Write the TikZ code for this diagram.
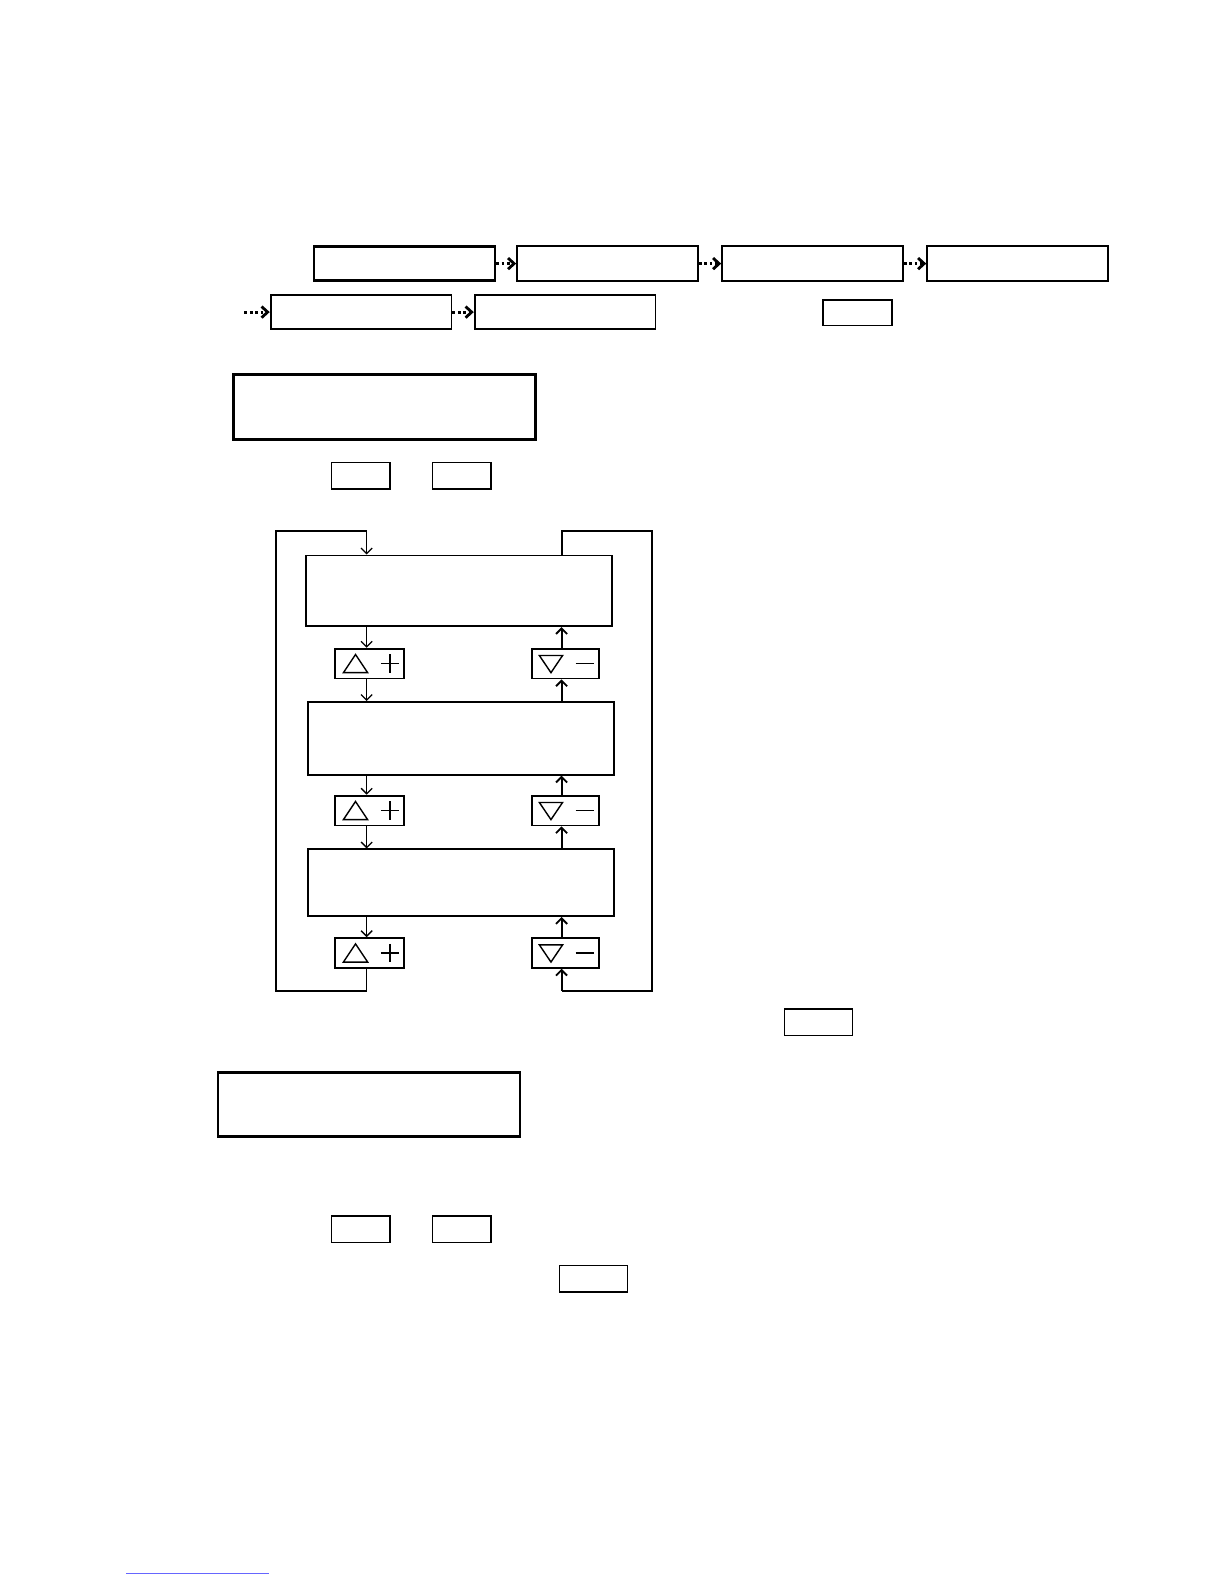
\documentclass[tikz,border=0pt]{standalone}
\usetikzlibrary{arrows.meta,calc}
\begin{document}
\begin{tikzpicture}[x=1pt,y=-1pt,
  bigbox/.style={draw,line width=2.6pt,inner sep=0pt},
  midbox/.style={draw,line width=1.9pt,inner sep=0pt},
  smallbox/.style={draw,line width=1.4pt,inner sep=0pt},
  btnbox/.style={draw,line width=1.8pt,inner sep=0pt,minimum height=29.5pt},
  dotarrow/.style={line width=3pt,dash pattern=on 2.6pt off 2.8pt,
     -{Straight Barb[length=6pt,width=11pt,line width=2.8pt]}},
  thinarrow/.style={line width=1.3pt,-{Straight Barb[length=5.5pt,width=11pt,line width=1.3pt]}},
  thickarrow/.style={line width=2pt,-{Straight Barb[length=5.5pt,width=11pt,line width=1.8pt]}},
  loopline/.style={line width=2pt},
  sym/.style={line width=1.4pt}]
\useasboundingbox (0,0) rectangle (1211.9,1568.3);

% first row
\node[bigbox,minimum width=179pt,minimum height=34pt] (A) at (400.5,261) {};
\node[midbox,minimum width=179pt,minimum height=34pt] (B) at (601.5,261) {};
\node[midbox,minimum width=179pt,minimum height=34pt] (C) at (804.5,261) {};
\node[midbox,minimum width=179pt,minimum height=34pt] (D) at (1007.5,261) {};
\draw[dotarrow] (A.east) -- (B.west);
\draw[dotarrow] (B.east) -- (C.west);
\draw[dotarrow] (C.east) -- (D.west);

% second row
\coordinate (Ein) at (242,309);
\node[midbox,minimum width=179pt,minimum height=34pt] (E) at (357.5,309) {};
\node[midbox,minimum width=179pt,minimum height=34pt] (F) at (559.5,309) {};
\draw[dotarrow] (Ein) -- (E.west);
\draw[dotarrow] (E.east) -- (F.west);
\node[smallbox,minimum width=68pt,minimum height=25pt] (S1) at (849,309.5) {};

% display box G
\node[bigbox,minimum width=299pt,minimum height=64pt] (G) at (380.5,403) {};
\node[smallbox,minimum width=58pt,minimum height=26pt] (S2) at (357,471) {};
\node[smallbox,minimum width=58pt,minimum height=26pt] (S3) at (457,471) {};

% loop section
\coordinate (xl) at (363,0);
\coordinate (xr) at (556,0);
\coordinate (LT) at (273,526);
\coordinate (LB) at (273,981);
\coordinate (RT) at (646,526);
\coordinate (RB) at (646,981);

\node[midbox,minimum width=303pt,minimum height=70pt] (H1) at (454.5,585) {};
\node[midbox,minimum width=303pt,minimum height=72pt] (H2) at (456.5,731) {};
\node[midbox,minimum width=303pt,minimum height=66pt] (H3) at (456.5,874) {};

\foreach \n/\y in {1/657,2/802.5,3/943.5}{
  \node[btnbox,minimum width=68pt] (P\n) at (366,\y) {};
  \node[btnbox,minimum width=66pt] (M\n) at (560,\y) {};
  \draw[sym] ([shift={(-14,-9)}]P\n.center) -- ([shift={(-26,9)}]P\n.center)
     -- ([shift={(-2,9)}]P\n.center) -- cycle;
  \draw[line width=1.3pt] ([shift={(11,0)}]P\n.center) -- ([shift={(29,0)}]P\n.center);
  \draw[line width=1.3pt] ([shift={(20,-9)}]P\n.center) -- ([shift={(20,9)}]P\n.center);
  \draw[sym] ([shift={(-26,-8)}]M\n.center) -- ([shift={(-3,-8)}]M\n.center)
     -- ([shift={(-14.5,9)}]M\n.center) -- cycle;
  \draw[line width=1.2pt] ([shift={(10,0)}]M\n.center) -- ([shift={(28,0)}]M\n.center);
}

% plus side arrows (down)
\draw[thinarrow] (H1.south -| xl) -- (P1.north -| xl);
\draw[thinarrow] (P1.south -| xl) -- (H2.north -| xl);
\draw[thinarrow] (H2.south -| xl) -- (P2.north -| xl);
\draw[thinarrow] (P2.south -| xl) -- (H3.north -| xl);
\draw[thinarrow] (H3.south -| xl) -- (P3.north -| xl);
% minus side arrows (up)
\draw[thickarrow] (M1.north -| xr) -- (H1.south -| xr);
\draw[thickarrow] (H2.north -| xr) -- (M1.south -| xr);
\draw[thickarrow] (M2.north -| xr) -- (H2.south -| xr);
\draw[thickarrow] (H3.north -| xr) -- (M2.south -| xr);
\draw[thickarrow] (M3.north -| xr) -- (H3.south -| xr);

% left wrap-around (+ from last to first)
\draw[line width=1.3pt] (P3.south -| xl) -- (xl |- LB);
\draw[loopline] (xl |- LB) -- (LB) -- (LT) -- (xl |- LT);
\draw[thinarrow] (xl |- LT) -- (H1.north -| xl);
% right wrap-around (- from first to last)
\draw[loopline] (H1.north -| xr) -- (xr |- RT) -- (RT) -- (RB) -- (xr |- RB);
\draw[thickarrow] (xr |- RB) -- (M3.south -| xr);

\node[smallbox,minimum width=67pt,minimum height=26pt] (S4) at (810.5,1012) {};

% display box I
\node[bigbox,minimum width=299pt,minimum height=63pt] (I) at (365.5,1093.5) {};
\node[smallbox,minimum width=58pt,minimum height=26pt] (S5) at (357,1217) {};
\node[smallbox,minimum width=58pt,minimum height=26pt] (S6) at (457,1217) {};
\node[smallbox,minimum width=67pt,minimum height=26pt] (S7) at (587.5,1266) {};

% footnote rule
\draw[blue!60,line width=0.8pt] (125,1558) -- (266,1558);
\end{tikzpicture}
\end{document}
